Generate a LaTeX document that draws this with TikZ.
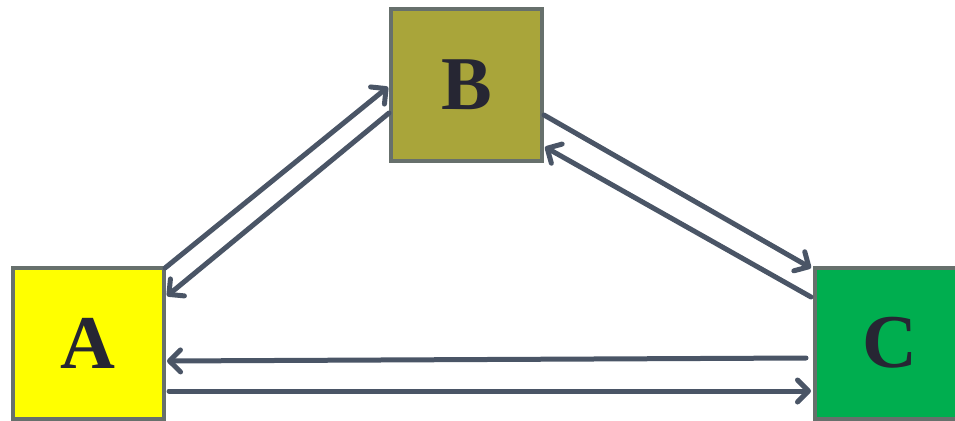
\documentclass[tikz,border=0pt]{standalone}
\usepackage{fontspec}
\setmainfont{Liberation Serif}
\usetikzlibrary{arrows.meta}
\definecolor{boxline}{HTML}{67706C}
\definecolor{arrowcol}{HTML}{4A5566}
\definecolor{fillA}{HTML}{FFFF00}
\definecolor{fillB}{HTML}{A9A53A}
\definecolor{fillC}{HTML}{00AE4F}
\definecolor{letter}{HTML}{262633}
\begin{document}
\begin{tikzpicture}[x=1pt,y=-1pt,
  square/.style={draw=boxline, line width=4pt, minimum width=151pt, minimum height=151pt,
    inner sep=0pt, text=letter, font=\fontsize{76}{76}\selectfont\bfseries},
  link/.style={draw=arrowcol, line width=5pt, line cap=round, line join=round,
    -{Straight Barb[length=11pt,width=22pt,line cap=round,line join=round]}}]
\useasboundingbox (0,0) rectangle (955,420);
\node[square, fill=fillA] (A) at (88,343) {A};
\node[square, fill=fillB] (B) at (466.5,85) {B};
\node[square, fill=fillC] (C) at (890,343) {C};
% edge points on the boxes
\coordinate (a1) at (165,268);
\coordinate (b1) at (388,87);
\coordinate (b2) at (389,113);
\coordinate (a2) at (167,296);
\coordinate (b3) at (544,115);
\coordinate (c1) at (811,268);
\coordinate (c2) at (811,297);
\coordinate (b4) at (545,147);
\coordinate (c3) at (806,358);
\coordinate (a3) at (167,361);
\coordinate (a4) at (169,391);
\coordinate (c4) at (811,391);
\draw[link] (a1) -- (b1);
\draw[link] (b2) -- (a2);
\draw[link] (b3) -- (c1);
\draw[link] (c2) -- (b4);
\draw[link] (c3) -- (a3);
\draw[link] (a4) -- (c4);
\end{tikzpicture}
\end{document}
